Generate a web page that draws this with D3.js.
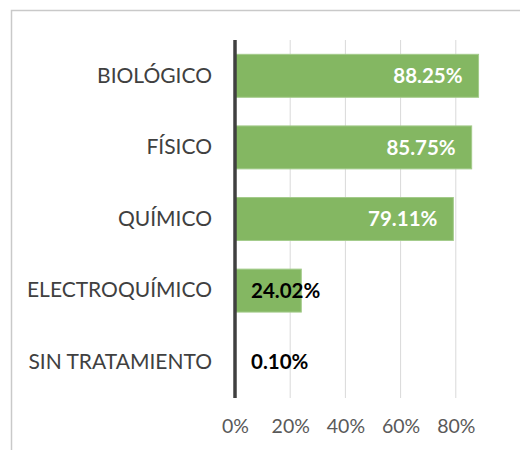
<!DOCTYPE html>
<html>
<head>
<meta charset="utf-8">
<script src="https://cdn.jsdelivr.net/npm/d3@7"></script>
<style>
  body { margin: 0; background: #fff; }
  text { font-family: Lato, sans-serif; }
</style>
</head>
<body>
<div id="chart"></div>
<script>
    // data
    let categories = ["BIOLÓGICO", "FÍSICO", "QUÍMICO", "ELECTROQUÍMICO", "SIN TRATAMIENTO"];
    let values = [0.8825, 0.8575, 0.7911, 0.2402, 0.001];
    let tickValues = [0, 0.2, 0.4, 0.6, 0.8];

    let svgWidth = 520;
    let svgHeight = 450;

    let svg = d3.select("#chart")
        .append("svg")
        .attr("width", svgWidth)
        .attr("height", svgHeight);

    // chart frame (cut off at right / bottom like the original)
    svg.append("rect")
        .attr("x", 11.5)
        .attr("y", 10.5)
        .attr("width", 560)
        .attr("height", 480)
        .attr("fill", "none")
        .attr("stroke", "#c9c9c9")
        .attr("stroke-width", 1.5);

    let x = d3.scaleLinear()
        .domain([0, 1])
        .range([235, 511]);

    let y = d3.scaleBand()
        .domain(categories)
        .range([40, 398])
        .paddingInner(0.4)
        .paddingOuter(0.2);

    // gridlines
    svg.append("g")
        .selectAll("line")
        .data(tickValues.slice(1))
        .enter().append("line")
        .attr("x1", d => x(d))
        .attr("x2", d => x(d))
        .attr("y1", 40)
        .attr("y2", 398)
        .attr("stroke", "#d9d9d9")
        .attr("stroke-width", 1);

    // bars
    svg.append("g")
        .selectAll("rect")
        .data(values)
        .enter().append("rect")
        .attr("x", x(0))
        .attr("y", (d, i) => y(categories[i]))
        .attr("width", d => x(d) - x(0))
        .attr("height", y.bandwidth())
        .attr("fill", "#84b762")
        .attr("stroke", "#a4cb8b")
        .attr("stroke-width", 1);

    // vertical axis line
    svg.append("line")
        .attr("x1", x(0))
        .attr("x2", x(0))
        .attr("y1", 40)
        .attr("y2", 398)
        .attr("stroke", "#404040")
        .attr("stroke-width", 3.5);

    // x axis labels
    let xAxis = d3.axisBottom(x)
        .tickValues(tickValues)
        .tickFormat(d3.format(".0%"))
        .tickSize(0)
        .tickPadding(0);

    let xg = svg.append("g")
        .attr("transform", "translate(0, 419)")
        .call(xAxis);
    xg.select(".domain").remove();
    xg.selectAll("text")
        .style("font-family", "Lato, sans-serif")
        .style("font-size", "19.5px")
        .attr("fill", "#595959");

    // category labels
    let yAxis = d3.axisLeft(y).tickSize(0).tickPadding(0);
    let yg = svg.append("g")
        .attr("transform", "translate(212, 0)")
        .call(yAxis);
    yg.select(".domain").remove();
    yg.selectAll("text")
        .style("font-family", "Lato, sans-serif")
        .style("font-size", "21px")
        .attr("fill", "#404040");

    // value labels
    svg.append("g")
        .selectAll("text")
        .data(values)
        .enter().append("text")
        .attr("x", d => d > 0.5 ? x(d) - 16 : x(0) + 16)
        .attr("y", (d, i) => y(categories[i]) + y.bandwidth() / 2)
        .attr("dy", "0.35em")
        .attr("text-anchor", d => d > 0.5 ? "end" : "start")
        .attr("fill", d => d > 0.5 ? "#ffffff" : "#000000")
        .style("font-size", "20.5px")
        .style("font-weight", "bold")
        .text(d => d3.format(".2%")(d));
</script>
</body>
</html>
